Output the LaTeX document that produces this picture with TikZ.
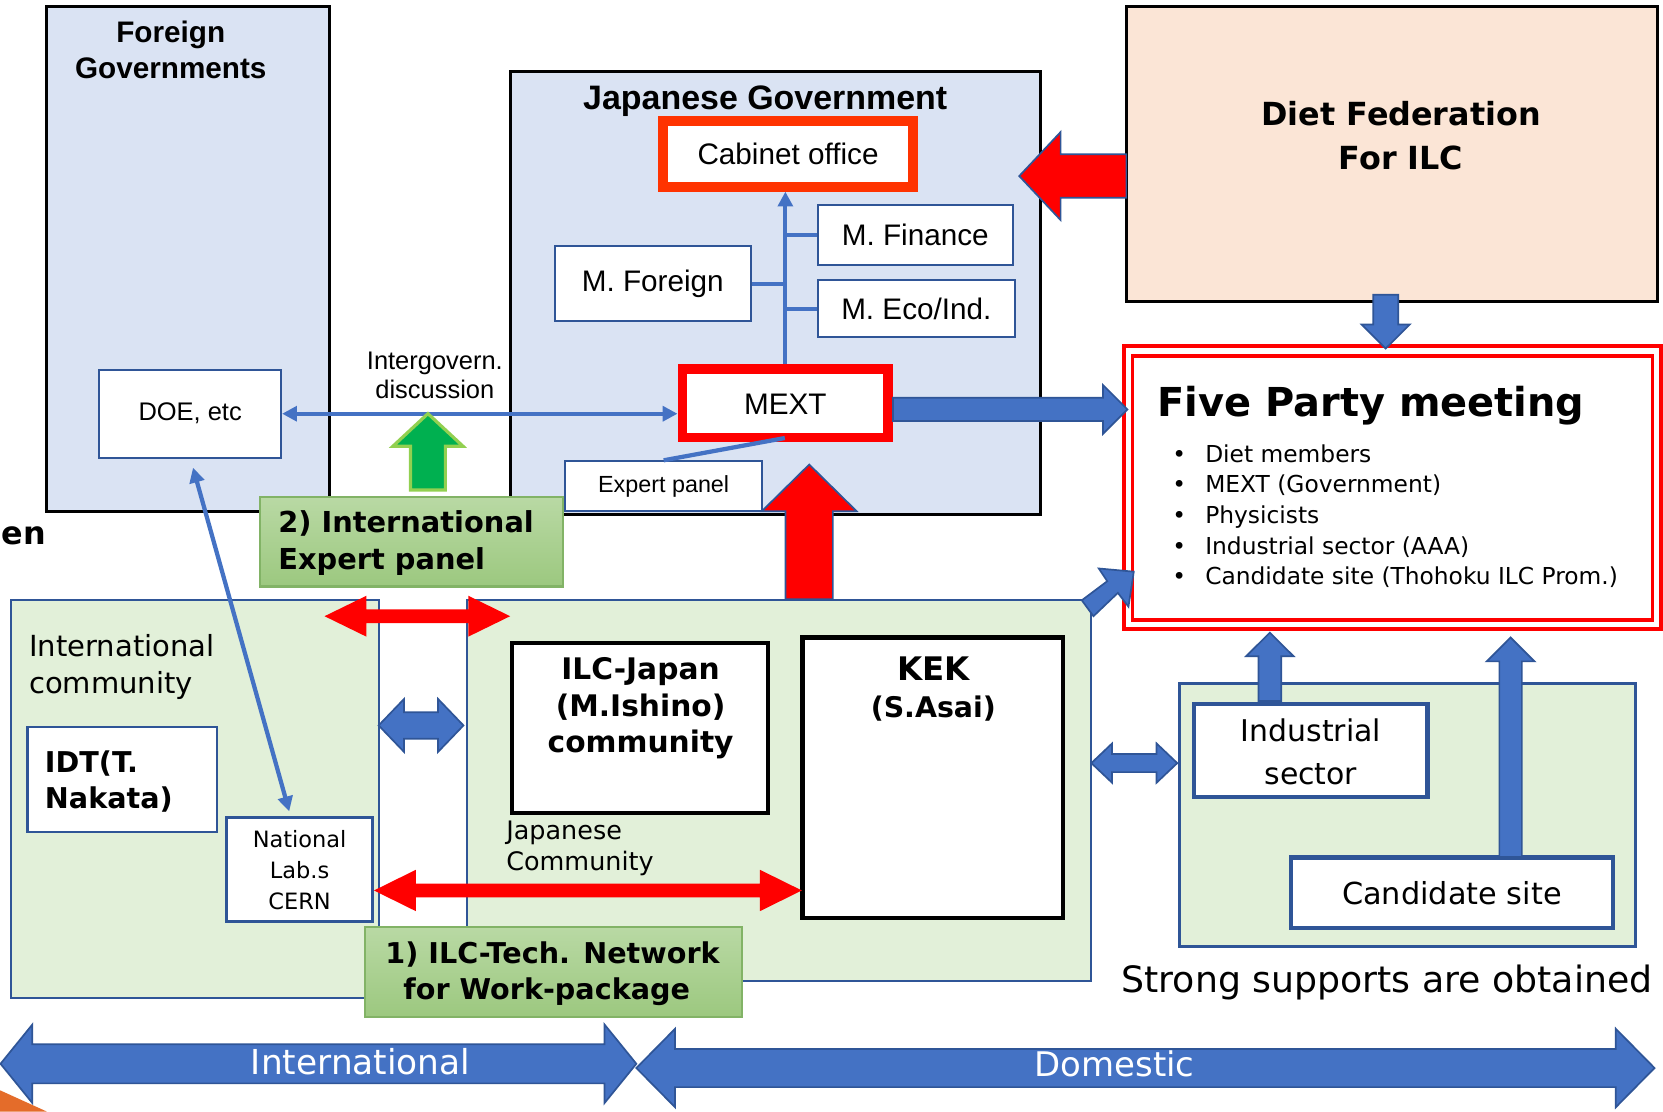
\documentclass[tikz,border=0pt]{standalone}
\usepackage{fontspec}
\setmainfont{Liberation Sans}
\newfontfamily\mei{DejaVu Sans}
\usetikzlibrary{arrows.meta,fit,calc}
\definecolor{govfill}{HTML}{DAE3F3}
\definecolor{peach}{HTML}{FBE5D6}
\definecolor{lgreen}{HTML}{E2F0D9}
\definecolor{mblue}{HTML}{4472C4}
\definecolor{dblue}{HTML}{2F5597}
\definecolor{cabred}{HTML}{FF3300}
\definecolor{ggreen}{HTML}{00B050}
\definecolor{lime}{HTML}{92D050}
\definecolor{gtop}{HTML}{B9D9A4}
\definecolor{gbot}{HTML}{9CC87F}
\definecolor{gline}{HTML}{82B366}
\definecolor{orangew}{HTML}{E46C2A}
% horizontal double block arrow: style, x1, x2, yc, head length, head half, shaft half
\newcommand{\dblharrow}[7]{\draw[#1] (#2,#4) -- ({#2+#5},{#4-#6}) -- ({#2+#5},{#4-#7}) -- ({#3-#5},{#4-#7}) -- ({#3-#5},{#4-#6}) -- (#3,#4) -- ({#3-#5},{#4+#6}) -- ({#3-#5},{#4+#7}) -- ({#2+#5},{#4+#7}) -- ({#2+#5},{#4+#6}) -- cycle;}
% vertical block arrow: style, xc, ytip, yhead, ytail, head half, shaft half
\newcommand{\varrowblk}[7]{\draw[#1] (#2,#3) -- ({#2+#6},#4) -- ({#2+#7},#4) -- ({#2+#7},#5) -- ({#2-#7},#5) -- ({#2-#7},#4) -- ({#2-#6},#4) -- cycle;}
% horizontal block arrow: style, yc, xtip, xhead, xtail, head half, shaft half
\newcommand{\harrowblk}[7]{\draw[#1] (#3,#2) -- (#4,{#2-#6}) -- (#4,{#2-#7}) -- (#5,{#2-#7}) -- (#5,{#2+#7}) -- (#4,{#2+#7}) -- (#4,{#2+#6}) -- cycle;}
\begin{document}
\begin{tikzpicture}[x=0.5pt,y=-0.5pt,
  bx/.style={inner sep=0pt},
  bluebox/.style={bx, draw=dblue, line width=1pt, fill=white},
  blackbox/.style={bx, draw=black, line width=2pt, fill=white},
  labelbox/.style={bx, draw=gline, line width=1pt, top color=gtop, bottom color=gbot},
  conn/.style={draw=mblue, line width=2pt},
  tipA/.style={-{Triangle[length=7pt,width=7pt]}},
  tipB/.style={{Triangle[length=7pt,width=7pt]}-{Triangle[length=7pt,width=7pt]}},
  bluearrow/.style={fill=mblue, draw=dblue, line width=0.8pt},
  redarrow/.style={fill=red, draw=none},
  redbarrow/.style={fill=red, draw=dblue, line width=0.8pt},
  greenarrow/.style={fill=ggreen, draw=lime, line width=1.5pt},
  fA/.style={font=\fontsize{14}{16.5}\selectfont},
]
\clip (0,0) rectangle (1568,1048);
\fill[white] (0,0) rectangle (1568,1048);

% ---------- containers ----------
\node[bx, draw=black, line width=1.4pt, fill=govfill, fit={(44,6)(311,482)}] (fg) {};
\node[bx, draw=black, line width=1.4pt, fill=govfill, fit={(481,67)(981,485)}] (jg) {};
\node[bx, draw=black, line width=1.4pt, fill=peach, fit={(1062.5,6)(1563,284)}] (diet) {};
\node[bx, draw=dblue, line width=1pt, fill=lgreen, fit={(10,565.5)(357.5,941)}] (ic) {};
\node[bx, draw=dblue, line width=1pt, fill=lgreen, fit={(440,565.5)(1029,925)}] (jc) {};
\node[bx, draw=dblue, line width=1.4pt, fill=lgreen, fit={(1112.5,644.5)(1542.5,892.5)}] (rg) {};
\node[bx, draw=red, line width=2pt, fill=white, fit={(1060,326)(1566,593)}] (fpo) {};
\node[bx, draw=red, line width=1.6pt, fill=white, fit={(1068,335.5)(1558,584.5)}] (fp) {};

% ---------- titles ----------
\node[font=\bfseries\fontsize{14}{17}\selectfont, align=center] (fgt) at (161,47) {Foreign\\Governments};
\node[font=\bfseries\fontsize{16}{19}\selectfont] (jgt) at (721.5,95) {Japanese Government};
\node[font=\mei\bfseries\fontsize{15}{21}\selectfont, align=center] (dt) at (1321,128) {Diet Federation\\For ILC};
\node[font=\mei\bfseries\fontsize{18.8}{22}\selectfont, anchor=base west, inner sep=0pt] (fpt) at (1091,393) {Five Party meeting};
\foreach \yy/\tt [count=\i] in {436/Diet members, 464.5/MEXT (Government), 493.5/Physicists, 522.5/Industrial sector (AAA), 551.5/Candidate site (Thohoku ILC Prom.)}
  \node[font=\mei\fontsize{11}{13}\selectfont, anchor=base west, inner sep=0pt] (fpb\i) at (1105,\yy) {\makebox[15.5pt][l]{•}\tt};

% ---------- government inner boxes ----------
\node[bx, draw=cabred, line width=4.7pt, fill=white, fit={(625,114.5)(861,176)}] (cab) {};
\node[fA] (cabt) at (cab.center) {Cabinet office};
\node[bluebox, fit={(771,193)(955,250)}] (fin) {};
\node[fA] (fint) at (fin.center) {M. Finance};
\node[bluebox, fit={(523,232)(708,303)}] (mfor) {};
\node[fA] (mfort) at (mfor.center) {M. Foreign};
\node[bluebox, fit={(771,264)(957,318)}] (eco) {};
\node[fA] (ecot) at (eco.center) {M. Eco/Ind.};
\node[bx, draw=red, line width=4.7pt, fill=white, fit={(643.5,347.5)(837.5,412.5)}] (mext) {};
\node[fA] (mextt) at (740.5,381) {MEXT};
\node[bluebox, fit={(533,435)(718.5,482)}] (ep) {};
\node[font=\fontsize{11}{13}\selectfont] (ept) at (ep.center) {Expert panel};
\node[bluebox, fit={(93.6,348.5)(265,431.7)}] (doe) {};
\node[font=\fontsize{12}{14}\selectfont] (doet) at (doe.center) {DOE, etc};
\node[font=\fontsize{12}{13.7}\selectfont, align=center] (ig) at (410,353.5) {Intergovern.\\discussion};

% ---------- community inner boxes ----------
\node[font=\mei\fontsize{13.7}{17.5}\selectfont, align=left, anchor=west, inner sep=0pt] (ict) at (27,628.5) {International\\community};
\node[bx, draw=dblue, line width=1.2pt, fill=white, fit={(26,685.4)(204.7,784.4)}] (idt) {};
\node[font=\mei\bfseries\fontsize{13.5}{17}\selectfont, align=left, anchor=west, inner sep=0pt] (idtt) at (42,737) {IDT(T.\\Nakata)};
\node[bx, draw=dblue, line width=1.2pt, fill=white, fit={(213.5,771)(351,869)}] (nl) {};
\node[font=\mei\fontsize{10.6}{14.8}\selectfont, align=center] (nlt) at (282.5,820.5) {National\\Lab.s\\CERN};
\node[blackbox, fit={(483,606)(724,766.6)}] (ilcj) {};
\node[font=\mei\bfseries\fontsize{14}{17.25}\selectfont, align=center] (ilcjt) at (604,668) {ILC-Japan\\(M.Ishino)\\community};
\node[font=\mei\fontsize{12}{14.5}\selectfont, align=left, anchor=west, inner sep=0pt] (jct) at (477,800) {Japanese\\Community};
\node[blackbox, fit={(756.7,601)(1002.5,865.7)}] (kek) {};
\node[font=\mei\bfseries\fontsize{15.3}{18}\selectfont] (kekt) at (880,630) {KEK};
\node[font=\mei\bfseries\fontsize{13.4}{16}\selectfont] (kekn) at (880,668) {(S.Asai)};
\node[bx, draw=dblue, line width=2pt, fill=white, fit={(1125.6,663.6)(1346,751.6)}] (ind) {};
\node[font=\mei\fontsize{14.1}{20}\selectfont, align=center] (indt) at (1236,709) {Industrial\\sector};
\node[bx, draw=dblue, line width=2pt, fill=white, fit={(1217.3,808.6)(1521,874.8)}] (cand) {};
\node[font=\mei\fontsize{14.3}{17}\selectfont] (candt) at (1369,842) {Candidate site};
\node[font=\mei\fontsize{17.1}{20}\selectfont, anchor=base west, inner sep=0pt] (strong) at (1057,936) {Strong supports are obtained};

% ---------- thin connectors ----------
\draw[conn, tipB] (doe.east) -- (doe.east -| mext.west);
\coordinate (dl1) at (182,441);
\coordinate (dl2) at (272.7,765);
\draw[conn, tipB] (dl1) -- (dl2);
\draw[conn, tipA] (mext.north) -- (mext.north |- cab.south);
\draw[conn] (fin.west) -- (fin.west -| mext.north);
\draw[conn] (mfor.east) -- (mfor.east -| mext.north);
\draw[conn] (eco.west) -- (eco.west -| mext.north);
\coordinate (epm) at (740,413);
\draw[conn] (ep.north) -- (epm);

% ---------- block arrows ----------
\varrowblk{greenarrow}{403.5}{390}{420.7}{462}{33}{16.4}
\varrowblk{redbarrow}{763}{438}{482}{565}{44.7}{22.3}
\harrowblk{bluearrow}{386}{1063}{1040}{842}{23}{11}
\harrowblk{redbarrow}{166}{961}{1000}{1062}{41.5}{20.5}
\varrowblk{bluearrow}{1306.5}{328.6}{306}{278}{22.7}{11.8}
\varrowblk{bluearrow}{1197.3}{596.5}{618.7}{661}{22.3}{10.7}
\varrowblk{bluearrow}{1424.3}{601}{623.6}{808}{22.5}{10.6}
\draw[bluearrow] (1020,566) -- (1044,548) -- (1036,536) -- (1069,539) -- (1064,572) -- (1054,559) -- (1031,581) -- cycle;
\dblharrow{redarrow}{306}{481}{581}{39.5}{19.3}{6.5}
\dblharrow{bluearrow}{357}{437}{684}{24}{25}{12.5}
\dblharrow{redarrow}{352.6}{756}{839.6}{39.5}{19.5}{6.5}
\dblharrow{bluearrow}{1029}{1110}{719.5}{19.5}{18.5}{8.5}
\dblharrow{bluearrow}{0.5}{600}{1003}{30}{37}{18.5}
\dblharrow{bluearrow}{600}{1560}{1007}{36.5}{37}{18}
\node[font=\mei\fontsize{16.2}{19}\selectfont, text=white] (intl) at (340,1001) {International};
\node[font=\mei\fontsize{16}{19}\selectfont, text=white] (dom) at (1051,1003) {Domestic};

% ---------- green label boxes ----------
\node[labelbox, fit={(245,468.7)(531,553)}] (lb2) {};
\node[font=\mei\bfseries\fontsize{13.6}{17}\selectfont, align=left, anchor=west, inner sep=0pt] (lb2t) at (262,512) {2) International\\Expert panel};
\node[labelbox, fit={(344,874)(700,959)}] (lb1) {};
\node[font=\mei\bfseries\fontsize{13.5}{17.25}\selectfont, align=left, anchor=west, inner sep=0pt] (lb1t) at (363,918) {1) ILC-Tech. Network\\\hspace*{8.5pt}for Work-package};

% ---------- fragments at the edges ----------
\node[font=\mei\bfseries\fontsize{15}{18}\selectfont, anchor=west, inner sep=0pt] (frag) at (1,505) {en};
\fill[orangew] (0,1028) -- (44,1048) -- (0,1048) -- cycle;
\end{tikzpicture}
\end{document}
